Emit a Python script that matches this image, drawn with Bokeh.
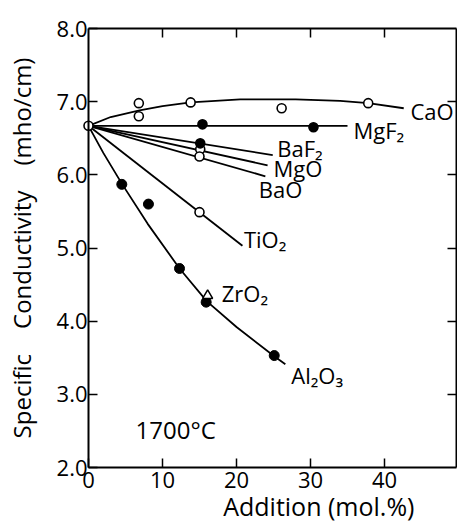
from bokeh.plotting import figure
from bokeh.models import Range1d, LinearAxis, FixedTicker, NumeralTickFormatter
from bokeh.embed import file_html
from bokeh.resources import INLINE
from bokeh.core.properties import value

FONT = "Open Sans"

# ---- data ----
x_ticks = [0, 10, 20, 30, 40]
y_ticks = [2, 3, 4, 5, 6, 7, 8]

# fitted curves
cao_curve_x = [0, 3, 6.9, 10, 13.8, 20.5, 28, 34, 37.8, 42.6]
cao_curve_y = [6.67, 6.79, 6.88, 6.94, 6.99, 7.03, 7.03, 7.01, 6.98, 6.91]
mgf2_line_x = [0, 35.0]
mgf2_line_y = [6.67, 6.67]
baf2_line_x = [0, 24.9]
baf2_line_y = [6.67, 6.27]
mgo_line_x = [0, 24.2]
mgo_line_y = [6.67, 6.13]
bao_line_x = [0, 23.9]
bao_line_y = [6.67, 5.98]
tio2_line_x = [0, 20.8]
tio2_line_y = [6.67, 5.03]
al2o3_curve_x = [0, 2, 4.5, 8, 12.3, 16, 20, 25.1, 26.6]
al2o3_curve_y = [6.67, 6.30, 5.88, 5.33, 4.72, 4.27, 3.92, 3.52, 3.41]

# measured points
origin_x = [0]
origin_y = [6.67]
cao_x = [6.8, 6.8, 13.8, 26.1, 37.8]
cao_y = [6.98, 6.80, 6.99, 6.91, 6.98]
mgf2_x = [15.4, 30.4]
mgf2_y = [6.69, 6.65]
baf2_x = [15.1]
baf2_y = [6.43]
mgo_x = [15.1]
mgo_y = [6.35]
bao_x = [15.0]
bao_y = [6.25]
tio2_x = [15.0]
tio2_y = [5.49]
al2o3_x = [4.5, 8.1, 12.3, 15.9, 25.1]
al2o3_y = [5.87, 5.60, 4.72, 4.26, 3.53]
zro2_x = [16.1]
zro2_y = [4.35]

# curve labels
label_text = ["CaO", "MgF₂", "BaF₂", "MgO", "BaO", "TiO₂", "ZrO₂", "Al₂O₃"]
label_x = [43.5, 35.8, 25.5, 25.0, 23.0, 21.0, 18.0, 27.4]
label_y = [6.87, 6.61, 6.36, 6.09, 5.80, 5.12, 4.39, 3.27]
temp_text = ["1700°C"]
temp_x = [6.35]
temp_y = [2.52]

x_title = ["Addition (mol.%)"]
x_title_x = [18.2]
x_title_y = [1.48]
y_title = ("Specific\u00a0\u00a0\u00a0\u00a0Conductivity"
           "\u00a0\u00a0\u00a0\u00a0(mho/cm)")

X_MIN, X_MAX = 0.0, 49.73   # x extent of the axis box
Y_MIN, Y_MAX = 2.0, 8.0

# ---- layout (pixels) ----
W, H = 457, 522
LEFT_PX, TOP_PX, BOTTOM_PX = 88, 28, 467   # where x=0, y=8, y=2 lie
PX_X = 7.4                                   # px per x unit
PX_Y = (BOTTOM_PX - TOP_PX) / (Y_MAX - Y_MIN)

x_range = Range1d(X_MIN - LEFT_PX / PX_X, X_MIN + (W - LEFT_PX) / PX_X)
y_range = Range1d(Y_MIN - (H - BOTTOM_PX) / PX_Y, Y_MAX + TOP_PX / PX_Y)

p = figure(width=W, height=H, output_backend="svg", toolbar_location=None,
           x_range=x_range, y_range=y_range,
           min_border_left=0, min_border_right=0, min_border_top=0,
           min_border_bottom=0)
p.grid.visible = False
p.outline_line_color = None
p.background_fill_color = "white"
p.border_fill_color = "white"


def style_axis(ax, labels=True):
    ax.axis_line_width = 2
    ax.axis_line_color = "black"
    ax.major_tick_in = 9
    ax.major_tick_out = 0
    ax.minor_tick_in = 0
    ax.minor_tick_out = 0
    ax.major_tick_line_width = 1.5
    ax.major_tick_line_color = "black"
    ax.minor_tick_line_color = None
    if labels:
        ax.major_label_text_font = FONT
        ax.major_label_text_font_size = "22px"
        ax.major_label_text_color = "black"
    else:
        ax.major_label_text_font_size = "1px"
        ax.major_label_text_color = None
        ax.major_label_standoff = 0


xa = p.xaxis[0]
xa.ticker = FixedTicker(ticks=x_ticks)
xa.fixed_location = Y_MIN
xa.bounds = (X_MIN, X_MAX)
style_axis(xa)
xa.major_label_standoff = 4

ya = p.yaxis[0]
ya.ticker = FixedTicker(ticks=y_ticks)
ya.formatter = NumeralTickFormatter(format="0.0")
ya.fixed_location = X_MIN
ya.bounds = (Y_MIN, Y_MAX)
style_axis(ya)
ya.major_label_standoff = 1
ya.axis_label = y_title
ya.axis_label_text_font = FONT
ya.axis_label_text_font_size = "24px"
ya.axis_label_text_font_style = "normal"
ya.axis_label_text_color = "black"
ya.axis_label_standoff = 16

top = LinearAxis(ticker=FixedTicker(ticks=x_ticks[1:]), fixed_location=Y_MAX,
                 bounds=(X_MIN, X_MAX))
style_axis(top, labels=False)
p.add_layout(top, "above")
right = LinearAxis(ticker=FixedTicker(ticks=y_ticks[1:-1]), fixed_location=X_MAX,
                   bounds=(Y_MIN, Y_MAX))
style_axis(right, labels=False)
p.add_layout(right, "right")

LW = 1.8
for cx, cy in [(cao_curve_x, cao_curve_y), (mgf2_line_x, mgf2_line_y),
               (baf2_line_x, baf2_line_y), (mgo_line_x, mgo_line_y),
               (bao_line_x, bao_line_y), (tio2_line_x, tio2_line_y),
               (al2o3_curve_x, al2o3_curve_y)]:
    p.line(cx, cy, line_color="black", line_width=LW)

open_x = origin_x + cao_x + mgo_x + bao_x + tio2_x
open_y = origin_y + cao_y + mgo_y + bao_y + tio2_y
p.scatter(open_x, open_y, marker="circle", size=9, fill_color="white",
          line_color="black", line_width=1.6)
p.scatter(mgf2_x + baf2_x, mgf2_y + baf2_y, marker="circle", size=9,
          fill_color="black", line_color="black", line_width=1.6)
p.scatter(al2o3_x, al2o3_y, marker="circle", size=10, fill_color="black",
          line_color="black")
p.scatter(zro2_x, zro2_y, marker="triangle", size=10, fill_color="white",
          line_color="black", line_width=1.5)

p.text(label_x, label_y, text=label_text, text_font=value(FONT),
       text_font_size="22px", text_baseline="middle", text_align="left",
       text_color="black")
p.text(temp_x, temp_y, text=temp_text, text_font=value(FONT),
       text_font_size="24px", text_baseline="middle", text_align="left",
       text_color="black")
p.text(x_title_x, x_title_y, text=x_title, text_font=value(FONT),
       text_font_size="25px", text_baseline="middle", text_align="left",
       text_color="black")

open("out.html", "w").write(file_html(p, INLINE))
